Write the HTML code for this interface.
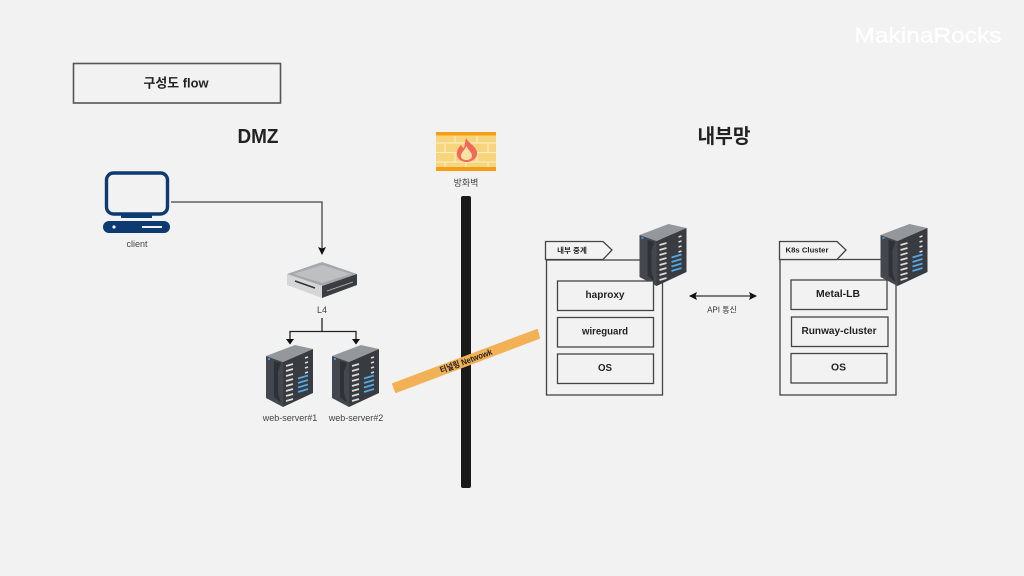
<!DOCTYPE html>
<html><head><meta charset="utf-8">
<style>
html,body{margin:0;padding:0;background:#f2f2f2;width:1024px;height:576px;overflow:hidden}
svg{display:block}
text{font-family:"Liberation Sans","Noto Sans CJK KR",sans-serif;text-anchor:middle;dominant-baseline:central}
.b{font-weight:700;fill:#222}
.s{font-size:9px;fill:#444}
</style></head><body>
<svg width="1024" height="576" viewBox="0 0 1024 576" xmlns="http://www.w3.org/2000/svg">
<defs>
<g id="srv">
<polygon points="0,11 29,0 47,4 17,17" fill="#94989d"/>
<polygon points="0,11 17,17 17,62 0,53" fill="#44484e"/>
<polygon points="17,17 47,4 47,48 17,62" fill="#383b40"/>
<polygon points="8,16 15,18 12,26 12,48 15,58 8,52" fill="#2e3135"/>
<rect x="2" y="13" width="2" height="2" fill="#4a90d0"/>
<g stroke="#dcdcd6" stroke-width="1.700">
<path d="M20 21 27 19M20 26 27 24M20 31 27 29M20 36 27 34M20 41 27 39M20 46 27 44M20 51 27 49M20 56 27 54"/>
<path d="M39 13 42 12M39 18 42 17M39 23 42 22M39 28 42 27"/>
</g>
<g stroke="#52a8e6" stroke-width="1.900">
<path d="M32 33.500 42 30.500M32 38 42 35M32 42.500 42 39.500M32 47 42 44"/>
</g>
</g>
<marker id="ah" viewBox="0 0 8 8" refX="7" refY="4" markerWidth="8" markerHeight="8" markerUnits="userSpaceOnUse" orient="auto-start-reverse"><path d="M0 0 8 4 0 8 1.500 4Z" fill="#111"/></marker>
</defs>

<rect width="1024" height="576" fill="#f2f2f2"/>
<text x="928" y="36" font-size="21" fill="#fff" stroke="#fff" stroke-width="0.300" textLength="147" lengthAdjust="spacingAndGlyphs">MakinaRocks</text>

<rect x="73.500" y="63.500" width="207" height="39.500" fill="none" stroke="#555" stroke-width="1.600"/>
<text x="176" y="83" font-size="13" class="b" textLength="65" lengthAdjust="spacingAndGlyphs">구성도 flow</text>
<text x="258" y="137" font-size="20" class="b" textLength="41" lengthAdjust="spacingAndGlyphs">DMZ</text>
<text x="724" y="137" font-size="20" class="b" textLength="53" lengthAdjust="spacingAndGlyphs">내부망</text>

<!-- client -->
<rect x="106.500" y="173" width="61" height="41" rx="7" fill="none" stroke="#0d3a70" stroke-width="3.400"/>
<rect x="121" y="214" width="31" height="4" fill="#0d3a70"/>
<rect x="103" y="221" width="67" height="12" rx="6" fill="#0d3a70"/>
<circle cx="114" cy="227" r="1.600" fill="#f2f2f2"/>
<rect x="142" y="226" width="20" height="2" fill="#f2f2f2"/>
<text x="137" y="244" class="s">client</text>
<path d="M171 202H322V254" fill="none" stroke="#444" stroke-width="1.300" marker-end="url(#ah)"/>

<!-- L4 -->
<polygon points="287,274 322,262 357,274 322,286" fill="#a5a7aa"/>
<polygon points="293,274 322,265 351,274 322,283" fill="#bdbfc1"/>
<polygon points="287,274 322,286 322,298 287,285" fill="#d6d6d6"/>
<polygon points="322,286 357,274 357,285 322,298" fill="#3a3d42"/>
<path d="M327 291 353 282" stroke="#bbb" stroke-width="0.800"/>
<path d="M295 281 315 288" stroke="#333" stroke-width="1.500"/>
<text x="322" y="310" class="s">L4</text>
<path d="M322 318V331.500" fill="none" stroke="#222" stroke-width="1.300"/>
<path d="M290 344V331.500H356V344" fill="none" stroke="#222" stroke-width="1.300"/>
<path d="M286 339H294L290 344.500ZM352 339H360L356 344.500Z" fill="#111"/>

<use href="#srv" x="266" y="345"/>
<use href="#srv" x="332" y="345"/>
<text x="290" y="418" class="s">web-server#1</text>
<text x="356" y="418" class="s">web-server#2</text>

<!-- firewall -->
<rect x="436" y="132" width="60" height="39" fill="#f6d57c"/>
<g stroke="#fbeecb" stroke-width="1">
<path d="M436 143H496M436 152.500H496M436 162H496"/>
<path d="M455 136V143M477 136V143M445 143V152.500M466 143V152.500M488 143V152.500M455 152.500V162M477 152.500V162M445 162V167M466 162V167M488 162V167"/>
</g>
<rect x="436" y="132" width="60" height="3.500" fill="#f59d17"/>
<rect x="436" y="167" width="60" height="4" fill="#f59d17"/>
<path d="M466 138C468 143 476 146 477 152C478 158 472 162 466.500 162C461 162 456 158 457 152C457.500 149 459 147 461 145C462 147 463 148 464 148C465 145 465 141 466 138Z" fill="#f2685c"/>
<path d="M466.500 146C468 150 472 152 472 156C472 159 469 160 466.500 160C464 160 461 159 461 156C461 152 465 150 466.500 146Z" fill="#f9e3a0"/>
<text x="466" y="183" class="s">방화벽</text>
<rect x="461" y="196" width="10" height="292" rx="2" fill="#1a1a1a"/>

<!-- tunnel -->
<polygon points="393,384 537,330 539,338 396,392" fill="#f2b155" stroke="#f2b155" stroke-width="2" stroke-linejoin="round"/>
<text x="466" y="361" font-size="8.500" class="b" transform="rotate(-20.400 466 361)" textLength="55" lengthAdjust="spacingAndGlyphs">터널링 Netwowk</text>

<!-- relay -->
<rect x="546.500" y="260" width="116" height="135" fill="none" stroke="#444" stroke-width="1.300"/>
<polygon points="545.500,241.500 603,241.500 612,250 603,259.500 545.500,259.500" fill="#f2f2f2" stroke="#444" stroke-width="1.300"/>
<text x="572" y="250.500" font-size="7.500" class="b">내부 중계</text>
<use href="#srv" x="639.500" y="224"/>
<g fill="#f2f2f2" stroke="#444" stroke-width="1.300">
<rect x="557.500" y="281" width="96" height="29.500"/>
<rect x="557.500" y="317.500" width="96" height="29.500"/>
<rect x="557.500" y="354" width="96" height="29.500"/>
</g>
<text x="605" y="295.500" font-size="10" class="b" textLength="39" lengthAdjust="spacingAndGlyphs">haproxy</text>
<text x="605" y="332" font-size="10" class="b" textLength="46" lengthAdjust="spacingAndGlyphs">wireguard</text>
<text x="605" y="368.500" font-size="10" class="b" textLength="14" lengthAdjust="spacingAndGlyphs">OS</text>

<!-- api arrow -->
<path d="M690 296H756" fill="none" stroke="#333" stroke-width="1.200" marker-start="url(#ah)" marker-end="url(#ah)"/>
<text x="722" y="310" font-size="8" fill="#333">API 통신</text>

<!-- k8s -->
<rect x="780" y="259.500" width="116" height="135.500" fill="none" stroke="#444" stroke-width="1.300"/>
<polygon points="779.500,241.500 837,241.500 846,250 837,259.500 779.500,259.500" fill="#f2f2f2" stroke="#444" stroke-width="1.300"/>
<text x="807" y="250" font-size="7.500" class="b" textLength="43" lengthAdjust="spacingAndGlyphs">K8s Cluster</text>
<use href="#srv" x="880.500" y="224"/>
<g fill="#f2f2f2" stroke="#444" stroke-width="1.300">
<rect x="791" y="280" width="96" height="29.500"/>
<rect x="791.500" y="317" width="96.500" height="29.500"/>
<rect x="791" y="353.500" width="96" height="29.500"/>
</g>
<text x="838" y="294.500" font-size="10" class="b" textLength="44" lengthAdjust="spacingAndGlyphs">Metal-LB</text>
<text x="839" y="331.500" font-size="10" class="b" textLength="75" lengthAdjust="spacingAndGlyphs">Runway-cluster</text>
<text x="838.500" y="368" font-size="10" class="b" textLength="15" lengthAdjust="spacingAndGlyphs">OS</text>
</svg>
</body></html>
